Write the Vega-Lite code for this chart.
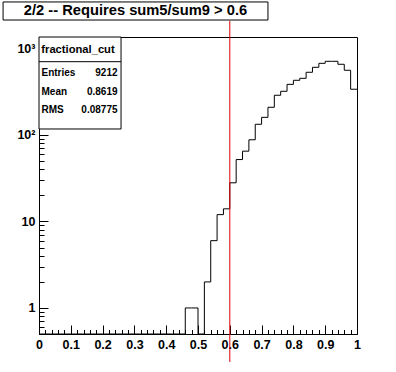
{
  "$schema": "https://vega.github.io/schema/vega-lite/v6.json",
  "width": 318,
  "height": 297,
  "autosize": {"type": "none"},
  "padding": {"left": 39, "top": 37, "right": 39, "bottom": 38},
  "background": "white",
  "config": {
    "view": {"stroke": "black", "strokeWidth": 1},
    "axis": {"grid": false, "domainColor": "black", "tickColor": "black", "labelColor": "black", "labelFont": "Liberation Sans", "labelFontWeight": "bold", "labelFontSize": 12.5, "title": null, "labelFlush": false, "labelOverlap": false, "labelBound": false},
    "text": {"font": "Liberation Sans", "fontWeight": "bold", "color": "black"}
  },
  "data": {"values": [
    {"lo": 0.00, "hi": 0.02, "count": 0}, {"lo": 0.02, "hi": 0.04, "count": 0},
    {"lo": 0.04, "hi": 0.06, "count": 0}, {"lo": 0.06, "hi": 0.08, "count": 0},
    {"lo": 0.08, "hi": 0.10, "count": 0}, {"lo": 0.10, "hi": 0.12, "count": 0},
    {"lo": 0.12, "hi": 0.14, "count": 0}, {"lo": 0.14, "hi": 0.16, "count": 0},
    {"lo": 0.16, "hi": 0.18, "count": 0}, {"lo": 0.18, "hi": 0.20, "count": 0},
    {"lo": 0.20, "hi": 0.22, "count": 0}, {"lo": 0.22, "hi": 0.24, "count": 0},
    {"lo": 0.24, "hi": 0.26, "count": 0}, {"lo": 0.26, "hi": 0.28, "count": 0},
    {"lo": 0.28, "hi": 0.30, "count": 0}, {"lo": 0.30, "hi": 0.32, "count": 0},
    {"lo": 0.32, "hi": 0.34, "count": 0}, {"lo": 0.34, "hi": 0.36, "count": 0},
    {"lo": 0.36, "hi": 0.38, "count": 0}, {"lo": 0.38, "hi": 0.40, "count": 0},
    {"lo": 0.40, "hi": 0.42, "count": 0}, {"lo": 0.42, "hi": 0.44, "count": 0},
    {"lo": 0.44, "hi": 0.46, "count": 0}, {"lo": 0.46, "hi": 0.48, "count": 1},
    {"lo": 0.48, "hi": 0.50, "count": 1}, {"lo": 0.50, "hi": 0.52, "count": 0},
    {"lo": 0.52, "hi": 0.54, "count": 2}, {"lo": 0.54, "hi": 0.56, "count": 6},
    {"lo": 0.56, "hi": 0.58, "count": 12}, {"lo": 0.58, "hi": 0.60, "count": 14},
    {"lo": 0.60, "hi": 0.62, "count": 28}, {"lo": 0.62, "hi": 0.64, "count": 52},
    {"lo": 0.64, "hi": 0.66, "count": 65}, {"lo": 0.66, "hi": 0.68, "count": 88},
    {"lo": 0.68, "hi": 0.70, "count": 133}, {"lo": 0.70, "hi": 0.72, "count": 160},
    {"lo": 0.72, "hi": 0.74, "count": 209}, {"lo": 0.74, "hi": 0.76, "count": 288},
    {"lo": 0.76, "hi": 0.78, "count": 320}, {"lo": 0.78, "hi": 0.80, "count": 385},
    {"lo": 0.80, "hi": 0.82, "count": 429}, {"lo": 0.82, "hi": 0.84, "count": 452},
    {"lo": 0.84, "hi": 0.86, "count": 531}, {"lo": 0.86, "hi": 0.88, "count": 606},
    {"lo": 0.88, "hi": 0.90, "count": 674}, {"lo": 0.90, "hi": 0.92, "count": 711},
    {"lo": 0.92, "hi": 0.94, "count": 711}, {"lo": 0.94, "hi": 0.96, "count": 657},
    {"lo": 0.96, "hi": 0.98, "count": 560}, {"lo": 0.98, "hi": 1.00, "count": 338}
  ]},
  "layer": [
    {
      "transform": [{"fold": ["lo", "hi"], "as": ["edge", "xpos"]}],
      "mark": {"type": "line", "color": "black", "strokeWidth": 1, "interpolate": "linear", "invalid": "show"},
      "encoding": {
        "x": {"field": "xpos", "type": "quantitative", "scale": {"domain": [0, 1], "nice": false, "zero": false},
          "axis": {"orient": "bottom", "values": [0, 0.1, 0.2, 0.3, 0.4, 0.5, 0.6, 0.7, 0.8, 0.9, 1], "format": "~g", "tickSize": -9, "labelPadding": 13}},
        "y": {"field": "count", "type": "quantitative", "scale": {"type": "log", "domain": [0.5, 1358], "nice": false, "clamp": true},
          "axis": {"orient": "left", "values": [1, 10, 100, 1000], "format": "~g", "tickSize": -9, "labelPadding": 13,
            "labelExpr": "datum.value == 100 ? '10²' : datum.value == 1000 ? '10³' : datum.label"}},
        "order": [{"field": "xpos", "type": "quantitative"}, {"field": "edge", "type": "nominal"}]
      }
    },
    {
      "mark": {"type": "point", "opacity": 0},
      "encoding": {
        "x": {"field": "lo", "type": "quantitative", "scale": {"domain": [0, 1], "nice": false, "zero": false},
          "axis": {"orient": "bottom", "values": [0.02, 0.04, 0.06, 0.08, 0.12, 0.14, 0.16, 0.18, 0.22, 0.24, 0.26, 0.28, 0.32, 0.34, 0.36, 0.38, 0.42, 0.44, 0.46, 0.48, 0.52, 0.54, 0.56, 0.58, 0.62, 0.64, 0.66, 0.68, 0.72, 0.74, 0.76, 0.78, 0.82, 0.84, 0.86, 0.88, 0.92, 0.94, 0.96, 0.98], "tickSize": -4.5, "labels": false, "domain": false}},
        "y": {"field": "hi", "type": "quantitative", "scale": {"type": "log", "domain": [0.5, 1358], "nice": false},
          "axis": {"orient": "left", "values": [0.6, 0.7, 0.8, 0.9, 2, 3, 4, 5, 6, 7, 8, 9, 20, 30, 40, 50, 60, 70, 80, 90, 200, 300, 400, 500, 600, 700, 800, 900], "tickSize": -5, "labels": false, "domain": false}}
      }
    },
    {
      "encoding": {
        "x": {"field": "x", "type": "quantitative", "scale": {"domain": [0, 1], "nice": false, "zero": false}, "axis": null},
        "y": {"field": "y", "type": "quantitative", "scale": {"type": "log", "domain": [0.5, 1358], "nice": false}, "axis": null}
      },
      "layer": [
        {
          "data": {"values": [
            {"box": "title", "x": -0.113, "x2": 0.72, "y": 2134, "y2": 3451},
            {"box": "stats", "x": 0, "x2": 0.258, "y": 117.3, "y2": 1358}
          ]},
          "mark": {"type": "rect", "fill": "white", "stroke": "black", "strokeWidth": 1},
          "encoding": {"x2": {"field": "x2"}, "y2": {"field": "y2"}}
        },
        {
          "data": {"values": [{"x": 0, "x2": 0.258, "y": 703.6}]},
          "mark": {"type": "rule", "color": "black", "strokeWidth": 1},
          "encoding": {"x2": {"field": "x2"}}
        },
        {
          "data": {"values": [{"x": 0.3035, "y": 2714, "label": "2/2 -- Requires sum5/sum9 > 0.6"}]},
          "mark": {"type": "text", "fontSize": 14.7, "align": "center", "baseline": "middle"},
          "encoding": {"text": {"field": "label"}}
        },
        {
          "data": {"values": [{"x": 0.1226, "y": 961, "label": "fractional_cut"}]},
          "mark": {"type": "text", "fontSize": 11.2, "align": "center", "baseline": "middle"},
          "encoding": {"text": {"field": "label"}}
        },
        {
          "data": {"values": [
            {"x": 0.0079, "y": 517, "label": "Entries"},
            {"x": 0.0079, "y": 316.6, "label": "Mean"},
            {"x": 0.0079, "y": 194.5, "label": "RMS"}
          ]},
          "mark": {"type": "text", "fontSize": 10, "align": "left", "baseline": "middle"},
          "encoding": {"text": {"field": "label"}}
        },
        {
          "data": {"values": [
            {"x": 0.2469, "y": 517, "label": "9212"},
            {"x": 0.2469, "y": 316.6, "label": "0.8619"},
            {"x": 0.2469, "y": 194.5, "label": "0.08775"}
          ]},
          "mark": {"type": "text", "fontSize": 10, "align": "right", "baseline": "middle"},
          "encoding": {"text": {"field": "label"}}
        },
        {
          "data": {"values": [{"x": 0.6, "y": 0.2375, "y2": 2080}]},
          "mark": {"type": "rule", "color": "#e00000", "strokeWidth": 1},
          "encoding": {"y2": {"field": "y2"}}
        }
      ]
    }
  ],
  "resolve": {"scale": {"y": "independent"}, "axis": {"x": "independent", "y": "independent"}}
}
